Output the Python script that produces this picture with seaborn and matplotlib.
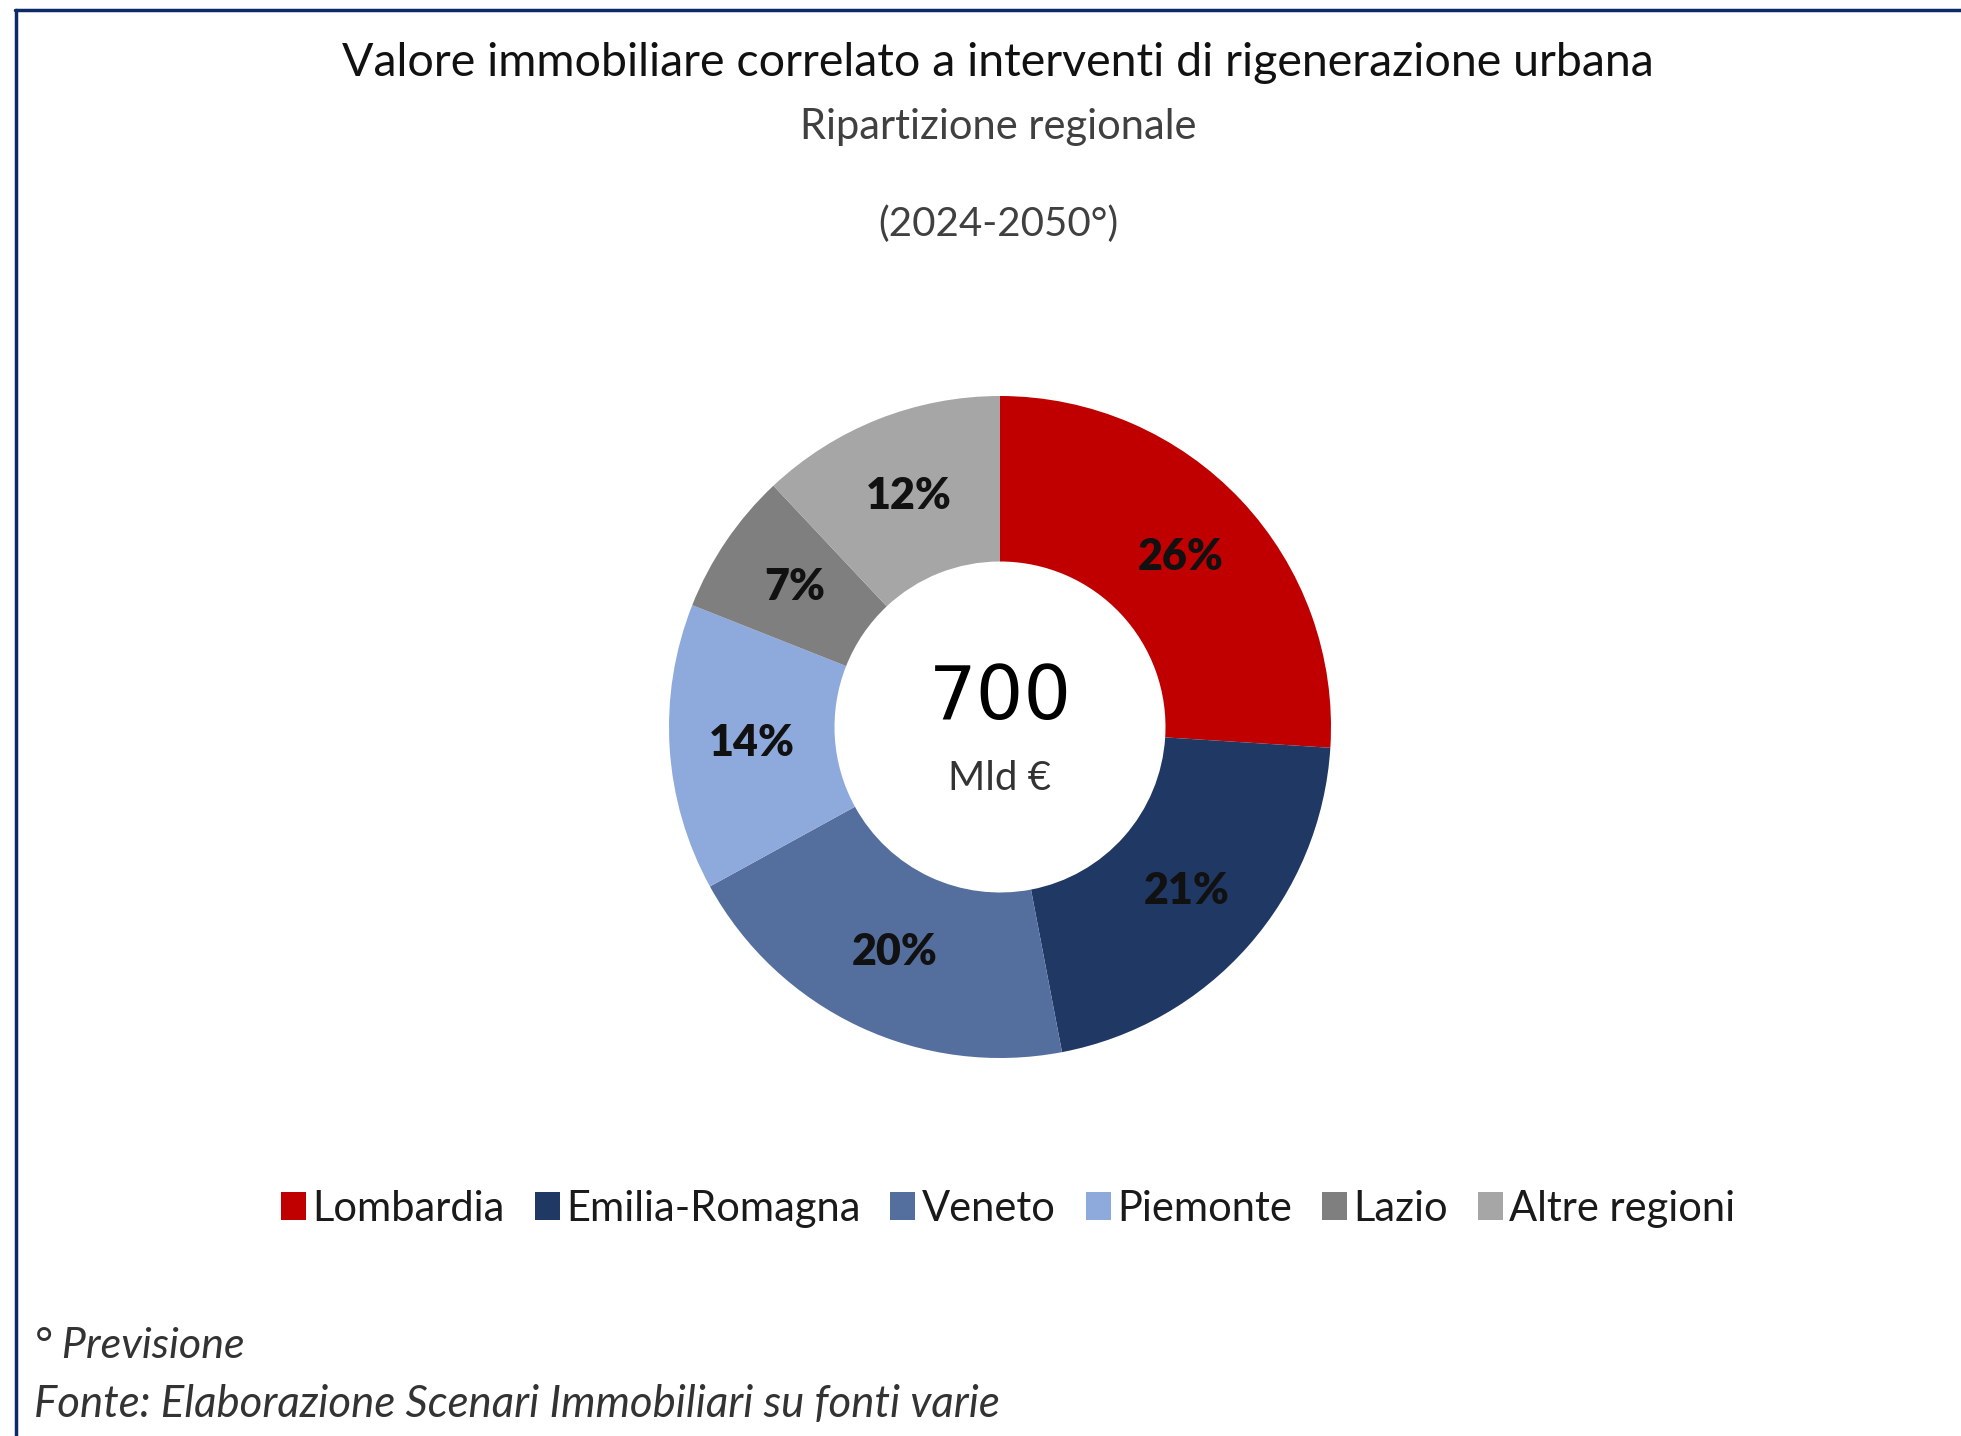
import matplotlib
matplotlib.use("Agg")
import matplotlib.pyplot as plt
from matplotlib.patches import Patch
from matplotlib.lines import Line2D
import numpy as np
import seaborn as sns

# Data
regions = ["Lombardia", "Emilia-Romagna", "Veneto", "Piemonte", "Lazio", "Altre regioni"]
shares = [26, 21, 20, 14, 7, 12]
colors = ["#C00000", "#1F3864", "#546E9E", "#8EA9DB", "#7F7F7F", "#A6A6A6"]
total_value = "700"
total_unit = "Mld €"

title = "Valore immobiliare correlato a interventi di rigenerazione urbana"
subtitle = "Ripartizione regionale"
period = "(2024-2050°)"
note = "° Previsione"
source = "Fonte: Elaborazione Scenari Immobiliari su fonti varie"

sns.set_theme(style="white")
plt.rcParams["font.family"] = ["Lato", "DejaVu Sans"]

W, H = 1961, 1436
fig = plt.figure(figsize=(W / 100, H / 100), dpi=100)
fig.patch.set_facecolor("white")

# Donut axes: centre (1000, 727) px, outer radius 331 px
cx, cy, r = 1000, 727, 331
ax = fig.add_axes([(cx - r) / W, 1 - (cy + r) / H, 2 * r / W, 2 * r / H])
wedges, _ = ax.pie(shares, colors=colors, startangle=90, counterclock=False,
                   radius=1.0, wedgeprops=dict(width=0.5, edgecolor="none"))
ax.set_xlim(-1, 1)
ax.set_ylim(-1, 1)
ax.set_aspect("equal")
ax.axis("off")

# Percentage labels in the middle of each ring segment
start = 90.0
for v in shares:
    mid = np.deg2rad(start - v * 3.6 / 2)
    ax.text(0.75 * np.cos(mid), 0.75 * np.sin(mid), f"{v}%", ha="center", va="center",
            fontsize=31, fontweight="heavy", color="#111111")
    start -= v * 3.6

ax.text(0, 0.085, total_value, ha="center", va="center", fontsize=54,
        family=["DejaVu Sans"], color="#000000")
ax.text(0, -0.157, total_unit, ha="center", va="center", fontsize=29, color="#333333")

# Titles
tx = 998 / W
fig.text(tx, 1 - 63 / H, title, ha="center", va="center", fontsize=33.5, color="#111111")
fig.text(tx, 1 - 127 / H, subtitle, ha="center", va="center", fontsize=30, color="#404040")
fig.text(tx, 1 - 224 / H, period, ha="center", va="center", fontsize=29, color="#404040")

# Legend
handles = [Patch(facecolor=c, edgecolor="none") for c in colors]
fig.legend(handles, regions, loc="center", bbox_to_anchor=(1008 / W, 1 - 1209 / H),
           ncol=6, frameon=False, fontsize=30, handlelength=0.6, handleheight=0.65,
           handletextpad=0.15, columnspacing=0.72, labelcolor="#1a1a1a")

# Footer notes
fig.text(34 / W, 1 - 1346 / H, note, ha="left", va="center", fontsize=31,
         style="italic", color="#333333")
fig.text(34 / W, 1 - 1405 / H, source, ha="left", va="center", fontsize=31.5,
         style="italic", color="#333333")

# Frame lines at top and left
fig.add_artist(Line2D([15 / W, 1], [1 - 9.5 / H, 1 - 9.5 / H], color="#0B2A66", lw=2.5,
                      transform=fig.transFigure))
fig.add_artist(Line2D([15.5 / W, 15.5 / W], [0, 1 - 9.5 / H], color="#0B2A66", lw=2.5,
                      transform=fig.transFigure))

fig.savefig("out.png", dpi=100, facecolor="white")
